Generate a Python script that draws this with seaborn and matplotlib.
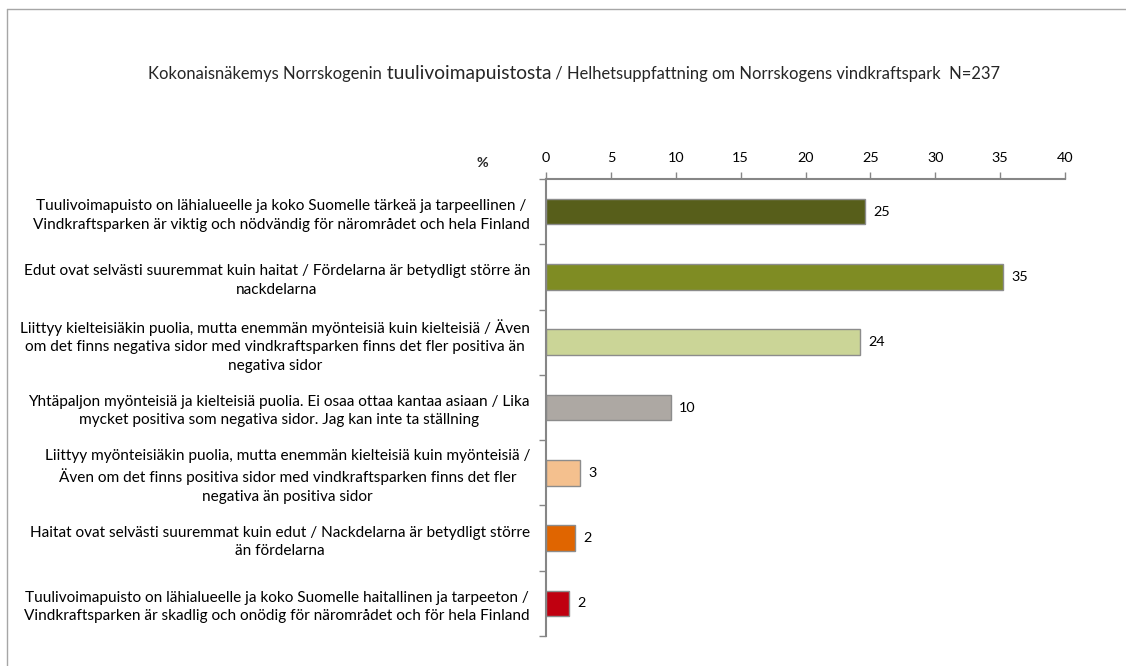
import matplotlib
matplotlib.use("Agg")
import matplotlib.pyplot as plt
from matplotlib.lines import Line2D
from matplotlib.ticker import FixedLocator
import pandas as pd
import seaborn as sns

# Survey answers (Finnish / Swedish), shares in percent, N=237
categories = [
    "Tuulivoimapuisto on lähialueelle ja koko Suomelle tärkeä ja tarpeellinen /\n"
    "Vindkraftsparken är viktig och nödvändig för närområdet och hela Finland",
    "Edut ovat selvästi suuremmat kuin haitat / Fördelarna är betydligt större än\n"
    "nackdelarna",
    "Liittyy kielteisiäkin puolia, mutta enemmän myönteisiä kuin kielteisiä / Även\n"
    "om det finns negativa sidor med vindkraftsparken finns det fler positiva än\n"
    "negativa sidor",
    "Yhtäpaljon myönteisiä ja kielteisiä puolia. Ei osaa ottaa kantaa asiaan / Lika\n"
    "mycket positiva som negativa sidor. Jag kan inte ta ställning",
    "Liittyy myönteisiäkin puolia, mutta enemmän kielteisiä kuin myönteisiä /\n"
    "Även om det finns positiva sidor med vindkraftsparken finns det fler\n"
    "negativa än positiva sidor",
    "Haitat ovat selvästi suuremmat kuin edut / Nackdelarna är betydligt större\n"
    "än fördelarna",
    "Tuulivoimapuisto on lähialueelle ja koko Suomelle haitallinen ja tarpeeton /\n"
    "Vindkraftsparken är skadlig och onödig för närområdet och för hela Finland",
]
values = [24.6, 35.2, 24.2, 9.6, 2.6, 2.2, 1.8]
bar_colors = ["#575E1A", "#7F8C23", "#CBD597", "#ADA8A3", "#F4C08E", "#E06500", "#C00010"]
x_ticks = [0, 5, 10, 15, 20, 25, 30, 35, 40]
title_parts = [
    "Kokonaisnäkemys Norrskogenin",
    " tuulivoimapuistosta",
    " / Helhetsuppfattning om Norrskogens vindkraftspark  N=237",
]
axis_unit = "%"

sns.set_theme(style="white")
plt.rcParams["font.family"] = ["Lato", "DejaVu Sans"]

W, H = 1126, 666
fig = plt.figure(figsize=(W / 100, H / 100), dpi=100)
ax = fig.add_axes([546 / W, 1 - 636 / H, (1065 - 546) / W, (636 - 179) / H])

df = pd.DataFrame({"category": categories, "value": values})
sns.barplot(
    data=df, x="value", y="category", hue="category",
    palette=bar_colors, saturation=1, width=0.39,
    edgecolor="#8C8C8C", linewidth=1, legend=False, ax=ax,
)

# value labels next to each bar
for container in ax.containers:
    ax.bar_label(container, fmt="{:.0f}", padding=6, fontsize=10.4, color="#000000")

spine_color = "#868686"
ax.set_xlim(0, 40)
ax.set_ylim(len(categories) - 0.5, -0.5)
ax.set_xlabel("")
ax.set_ylabel("")

# percentage scale on top
ax.xaxis.tick_top()
ax.set_xticks(x_ticks)
ax.set_xticklabels([str(t) for t in x_ticks])
ax.tick_params(axis="x", which="major", top=True, bottom=False, length=5, width=1,
               color=spine_color, direction="out", labelsize=10.4, pad=6,
               labelcolor="#000000")

# category labels centred on bars, tick marks between categories
ax.set_yticks(range(len(categories)))
ax.set_yticklabels(categories, multialignment="center", fontsize=11.1, color="#000000",
                   linespacing=1.4)
ax.tick_params(axis="y", which="major", left=True, length=0, pad=11.5)
ax.yaxis.set_minor_locator(FixedLocator([i - 0.5 for i in range(len(categories) + 1)]))
ax.tick_params(axis="y", which="minor", left=True, length=5, width=1,
               color=spine_color, direction="out")

for side in ["right", "bottom"]:
    ax.spines[side].set_visible(False)
for side in ["top", "left"]:
    ax.spines[side].set_color(spine_color)
    ax.spines[side].set_linewidth(1.5)

fig.text(482 / W, 1 - 163 / H, axis_unit, fontsize=10.4, fontweight="bold",
         ha="center", va="center")

# title with an enlarged middle part
t1 = fig.text(148 / W, 1 - 79 / H, title_parts[0], fontsize=11.9, va="baseline")
t2 = ax.annotate(title_parts[1], xy=(1, 0), xycoords=t1, va="bottom", fontsize=13.8)
t3 = ax.annotate(title_parts[2], xy=(1, 0), xycoords=t2, va="bottom", fontsize=11.9)

# chart-area frame
frame = "#A6A6A6"
fig.add_artist(Line2D([7 / W, 1], [1 - 9 / H, 1 - 9 / H], transform=fig.transFigure,
                      color=frame, lw=1))
fig.add_artist(Line2D([7 / W, 7 / W], [0, 1 - 9 / H], transform=fig.transFigure,
                      color=frame, lw=1))

fig.savefig("out.png", dpi=100, facecolor="white")
